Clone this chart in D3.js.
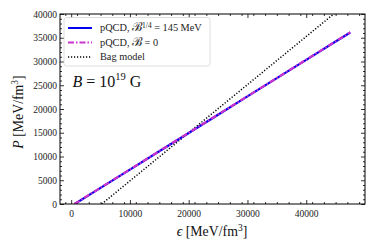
<!DOCTYPE html>
<html><head><meta charset="utf-8">
<script src="https://cdn.jsdelivr.net/npm/d3@7"></script>
<style>body{margin:0;background:#fff}svg{display:block}text{font-family:"Liberation Serif","DejaVu Serif",serif}</style>
</head><body>
<svg id="c" width="374" height="249"></svg>
<script>
// Data
const epsPQCD = [600, 5000, 10000, 15000, 20000, 25000, 30000, 35000, 40000, 45000, 47500];
const pPQCD145 = [0, 3400, 7250, 11100, 14950, 18800, 22650, 26500, 30350, 34200, 36100];
const epsPQCD0 = [550, 5000, 10000, 15000, 20000, 25000, 30000, 35000, 40000, 45000, 47500];
const pPQCD0 = [0, 3430, 7280, 11130, 14980, 18830, 22680, 26530, 30380, 34230, 36130];
const epsBag = [5200, 20000, 35000, 50000];
const pBag = [0, 15000, 30200, 45400];
const xTicks = [0, 10000, 20000, 30000, 40000];
const yTicks = [0, 5000, 10000, 15000, 20000, 25000, 30000, 35000, 40000];

const svg = d3.select("#c");
const L = 60, R = 365, T = 14, B = 204;
const x = d3.scaleLinear().domain([-1900, 50000]).range([L, R]);
const y = d3.scaleLinear().domain([0, 40000]).range([B, T]);

const defs = svg.append("defs");
defs.append("clipPath").attr("id","clip").append("rect").attr("x",L).attr("y",T).attr("width",R-L).attr("height",B-T);

const xMinor = d3.range(-1000, 50001, 2000).filter(v => v % 10000 !== 0 && v > -1900);
const yMinor = d3.range(0, 40001, 1000).filter(v => v % 5000 !== 0);

function ticks(g, axisFn, vals, size, fmt) {
  g.call(axisFn.tickValues(vals).tickSizeInner(-size).tickSizeOuter(0).tickFormat(fmt));
  g.select(".domain").remove();
  g.selectAll("line").attr("stroke","#000").attr("stroke-width",0.8);
}
const fmt = d3.format("d");
const none = () => "";
let gb = svg.append("g").attr("transform",`translate(0,${B})`);
ticks(gb, d3.axisBottom(x), xTicks, 4, fmt);
gb.selectAll("text").attr("font-size","9.5px").attr("fill","#222").attr("dy","0.9em").attr("y",4);
let gbm = svg.append("g").attr("transform",`translate(0,${B})`);
ticks(gbm, d3.axisBottom(x), xMinor, 2, none);
let gt = svg.append("g").attr("transform",`translate(0,${T})`);
ticks(gt, d3.axisTop(x), xTicks, 4, none);
let gtm = svg.append("g").attr("transform",`translate(0,${T})`);
ticks(gtm, d3.axisTop(x), xMinor, 2, none);
let gl = svg.append("g").attr("transform",`translate(${L},0)`);
ticks(gl, d3.axisLeft(y), yTicks, 4, fmt);
gl.selectAll("text").attr("font-size","9.5px").attr("fill","#222").attr("x",-3);
let glm = svg.append("g").attr("transform",`translate(${L},0)`);
ticks(glm, d3.axisLeft(y), yMinor, 2, none);
let gr = svg.append("g").attr("transform",`translate(${R},0)`);
ticks(gr, d3.axisRight(y), yTicks, 4, none);
let grm = svg.append("g").attr("transform",`translate(${R},0)`);
ticks(grm, d3.axisRight(y), yMinor, 2, none);

const line = d3.line().x(d => x(d[0])).y(d => y(d[1]));
const plot = svg.append("g").attr("clip-path","url(#clip)");
plot.append("path").datum(epsBag.map((e,i)=>[e,pBag[i]])).attr("d",line)
  .attr("fill","none").attr("stroke","#000").attr("stroke-width",1.5).attr("stroke-dasharray","1.2,1.8");
plot.append("path").datum(epsPQCD.map((e,i)=>[e,pPQCD145[i]])).attr("d",line)
  .attr("fill","none").attr("stroke","#0000ee").attr("stroke-width",2.2);
plot.append("path").datum(epsPQCD0.map((e,i)=>[e,pPQCD0[i]])).attr("d",line)
  .attr("fill","none").attr("stroke","#cc33cc").attr("stroke-width",2.2).attr("stroke-dasharray","6,2,1.5,2");

svg.append("rect").attr("x",L).attr("y",T).attr("width",R-L).attr("height",B-T)
  .attr("fill","none").attr("stroke","#000").attr("stroke-width",1);

// legend
const lg = svg.append("g");
lg.append("rect").attr("x",64).attr("y",17.5).attr("width",146).attr("height",48.5).attr("rx",2.5)
  .attr("fill","#fff").attr("fill-opacity",0.8).attr("stroke","#d6d6d6").attr("stroke-width",0.8);
const items = [
  {color:"#0000ee", dash:null, w:2},
  {color:"#cc33cc", dash:"6,2,1.5,2", w:2},
  {color:"#000", dash:"1.2,1.8", w:1.5}
];
const rows = [28, 42.5, 57];
items.forEach((it,i)=>{
  const yy = rows[i];
  lg.append("line").attr("x1",68).attr("x2",92).attr("y1",yy).attr("y2",yy)
    .attr("stroke",it.color).attr("stroke-width",it.w).attr("stroke-dasharray",it.dash);
  const t = lg.append("text").attr("x",100).attr("y",yy+3.3).attr("font-size","10.3px").attr("fill","#222");
  if (i===0) {
    t.append("tspan").text("pQCD, ");
    t.append("tspan").attr("font-size","12.5px").text("ℬ");
    t.append("tspan").attr("font-size","7.5px").attr("dy","-3.8").text("1/4");
    t.append("tspan").attr("dy","3.8").text(" = 145 MeV");
  } else if (i===1) {
    t.append("tspan").text("pQCD, ");
    t.append("tspan").attr("font-size","12.5px").text("ℬ");
    t.append("tspan").text(" = 0");
  } else {
    t.text("Bag model");
  }
});

// annotation
const ann = svg.append("text").attr("x",72.5).attr("y",86.5).attr("font-size","16px").attr("fill","#111");
ann.append("tspan").attr("font-style","italic").text("B");
ann.append("tspan").text(" = 10");
ann.append("tspan").attr("font-size","10.5px").attr("dy","-6.5").text("19");
ann.append("tspan").attr("dy","6.5").text(" G");

// axis labels
const xl = svg.append("text").attr("x",212).attr("y",236).attr("text-anchor","middle").attr("font-size","13.8px").attr("fill","#111");
xl.append("tspan").attr("font-style","italic").text("ϵ");
xl.append("tspan").text(" [MeV/fm");
xl.append("tspan").attr("font-size","9.5px").attr("dy","-5.5").text("3");
xl.append("tspan").attr("dy","5.5").text("]");

const yl = svg.append("text").attr("transform","translate(23,112) rotate(-90)").attr("text-anchor","middle").attr("font-size","13.8px").attr("fill","#111");
yl.append("tspan").attr("font-style","italic").text("P");
yl.append("tspan").text(" [MeV/fm");
yl.append("tspan").attr("font-size","9.5px").attr("dy","-5.5").text("3");
yl.append("tspan").attr("dy","5.5").text("]");
</script>
</body></html>
